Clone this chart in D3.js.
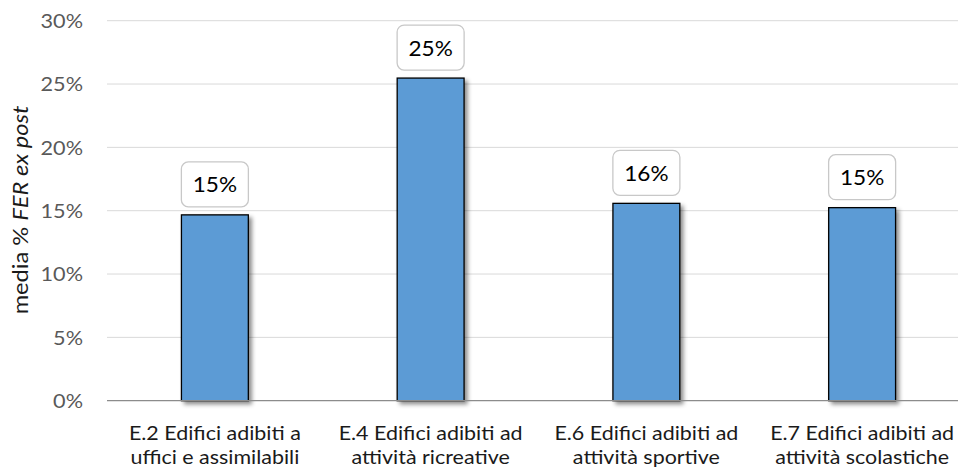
<!DOCTYPE html>
<html>
<head>
<meta charset="utf-8">
<script src="https://cdn.jsdelivr.net/npm/d3@7/dist/d3.min.js"></script>
<style>
  html, body { margin: 0; padding: 0; background: #fff; }
  svg { display: block; font-family: Lato, "Open Sans", sans-serif; }
</style>
</head>
<body>
<svg id="chart" width="960" height="470"></svg>
<script>
// Category labels (two lines each)
const categories = [
  ["E.2 Edifici adibiti a", "uffici e assimilabili"],
  ["E.4 Edifici adibiti ad", "attività ricreative"],
  ["E.6 Edifici adibiti ad", "attività sportive"],
  ["E.7 Edifici adibiti ad", "attività scolastiche"]
];
// Average share of renewable energy (FER) ex post
const values = [0.1467, 0.2547, 0.1558, 0.1524];
const yTicks = [0, 0.05, 0.10, 0.15, 0.20, 0.25, 0.30];

const svg = d3.select("#chart");
const plot = { left: 107, right: 970, top: 20.7, bottom: 400.7 };
const wide = 1.1; // horizontal text widening

const x = d3.scaleBand()
  .domain(d3.range(categories.length))
  .range([plot.left, plot.right])
  .paddingInner(0.69)
  .paddingOuter(0.345);

const y = d3.scaleLinear().domain([0, 0.30]).range([plot.bottom, plot.top]);
const pct = d3.format(".0%");

// Soft shadow for bars
const defs = svg.append("defs");
const f = defs.append("filter").attr("id", "shadow")
  .attr("x", "-20%").attr("y", "-20%").attr("width", "150%").attr("height", "150%");
f.append("feDropShadow")
  .attr("dx", 3).attr("dy", 3).attr("stdDeviation", 2.2)
  .attr("flood-color", "#000").attr("flood-opacity", 0.45);

// Gridlines
svg.append("g")
  .selectAll("line")
  .data(yTicks.filter(d => d > 0))
  .join("line")
  .attr("x1", plot.left).attr("x2", 958)
  .attr("y1", d => y(d)).attr("y2", d => y(d))
  .attr("stroke", "#d9d9d9").attr("stroke-width", 1);

// Y axis labels
const yAxis = d3.axisLeft(y).tickValues(yTicks).tickFormat(pct).tickSize(0).tickPadding(0);
const ya = svg.append("g").attr("transform", `translate(83,0) scale(${wide + 0.04},1)`).call(yAxis);
ya.select(".domain").remove();
ya.selectAll("text")
  .attr("font-family", "Lato, 'Open Sans', sans-serif")
  .attr("font-size", 19).attr("fill", "#595959")
  .attr("dy", "0.36em");

// Axis title
const title = svg.append("text")
  .attr("transform", `translate(28,210) rotate(-90) scale(${wide},1)`)
  .attr("text-anchor", "middle")
  .attr("font-size", 21.5).attr("fill", "#1a1a1a");
title.append("tspan").text("media % ");
title.append("tspan").attr("font-style", "italic").text("FER ex post");

// Bars
svg.append("g")
  .selectAll("rect")
  .data(values)
  .join("rect")
  .attr("x", (d, i) => x(i))
  .attr("y", d => y(d))
  .attr("width", x.bandwidth())
  .attr("height", d => y(0) - y(d))
  .attr("fill", "#5b9bd5")
  .attr("stroke", "#000").attr("stroke-width", 1.3)
  .attr("filter", "url(#shadow)");

// Baseline
svg.append("line")
  .attr("x1", plot.left).attr("x2", 958)
  .attr("y1", y(0)).attr("y2", y(0))
  .attr("stroke", "#8c8c8c").attr("stroke-width", 1.3);

// Value labels in rounded boxes
const lbl = svg.append("g")
  .selectAll("g")
  .data(values)
  .join("g")
  .attr("transform", (d, i) => `translate(${x(i) + x.bandwidth() / 2},${y(d) - 8})`);
lbl.append("rect")
  .attr("x", -33.5).attr("y", -45).attr("width", 67).attr("height", 45)
  .attr("rx", 7).attr("fill", "#fff")
  .attr("stroke", "#c8c8c8").attr("stroke-width", 1.3);
lbl.append("text")
  .attr("transform", "translate(0,-14.5) scale(1.05,1)")
  .attr("text-anchor", "middle")
  .attr("font-size", 21.5).attr("fill", "#000")
  .text(d => pct(d));

// Category labels, one text element per line
const cat = svg.append("g")
  .selectAll("g")
  .data(categories)
  .join("g")
  .attr("transform", (d, i) => `translate(${x(i) + x.bandwidth() / 2},0) scale(${wide},1)`);
cat.selectAll("text")
  .data(d => d)
  .join("text")
  .attr("text-anchor", "middle")
  .attr("font-size", 19.5).attr("fill", "#1a1a1a")
  .attr("y", (d, j) => 440 + j * 24)
  .text(d => d);
</script>
</body>
</html>
